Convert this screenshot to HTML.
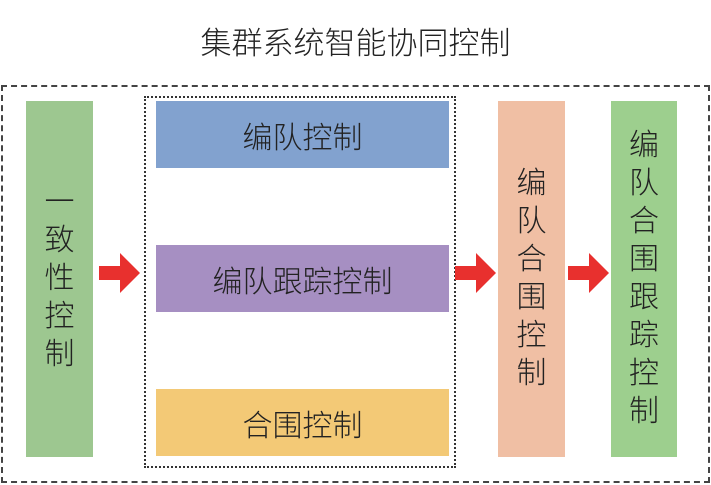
<!DOCTYPE html>
<html><head><meta charset="utf-8"><style>
body{margin:0;width:711px;height:485px;background:#fff;position:relative;overflow:hidden;font-family:"Liberation Sans","Noto Sans CJK SC",sans-serif;color:#222;font-weight:300}
div{position:absolute;box-sizing:border-box}
.t{display:flex;align-items:center;justify-content:center;text-align:center;font-size:30px}
.v{font-size:30px;line-height:38px;flex-direction:column}
</style></head><body>
<div class="t" style="left:0;top:18px;width:711px;height:44px;font-size:31px">集群系统智能协同控制</div>
<div style="left:1px;top:85px;width:709px;height:398px;border:2px dashed #444"></div>
<div style="left:144px;top:96px;width:312px;height:372px;border:2px dotted #333"></div>
<div class="t v" style="left:26px;top:101px;width:67px;height:356px;background:#9dc790">一<br>致<br>性<br>控<br>制</div>
<div class="t" style="left:156px;top:101px;width:293px;height:67px;background:#82a2cf">编队控制</div>
<div class="t" style="left:156px;top:245px;width:293px;height:67px;background:#a68fc2">编队跟踪控制</div>
<div class="t" style="left:156px;top:389px;width:293px;height:67px;background:#f3c976">合围控制</div>
<div class="t v" style="left:498px;top:101px;width:67px;height:356px;background:#f0bfa4">编<br>队<br>合<br>围<br>控<br>制</div>
<div class="t v" style="left:611px;top:101px;width:66px;height:356px;background:#9dcf8e">编<br>队<br>合<br>围<br>跟<br>踪<br>控<br>制</div>
<svg style="position:absolute;left:0;top:0" width="711" height="485">
<g fill="#e8302e">
<polygon points="99,266 120,266 120,253 140,273 120,293 120,280 99,280"/>
<polygon points="455,266 476,266 476,253 496,273 476,293 476,280 455,280"/>
<polygon points="568,266 589,266 589,253 609,273 589,293 589,280 568,280"/>
</g></svg>
</body></html>
